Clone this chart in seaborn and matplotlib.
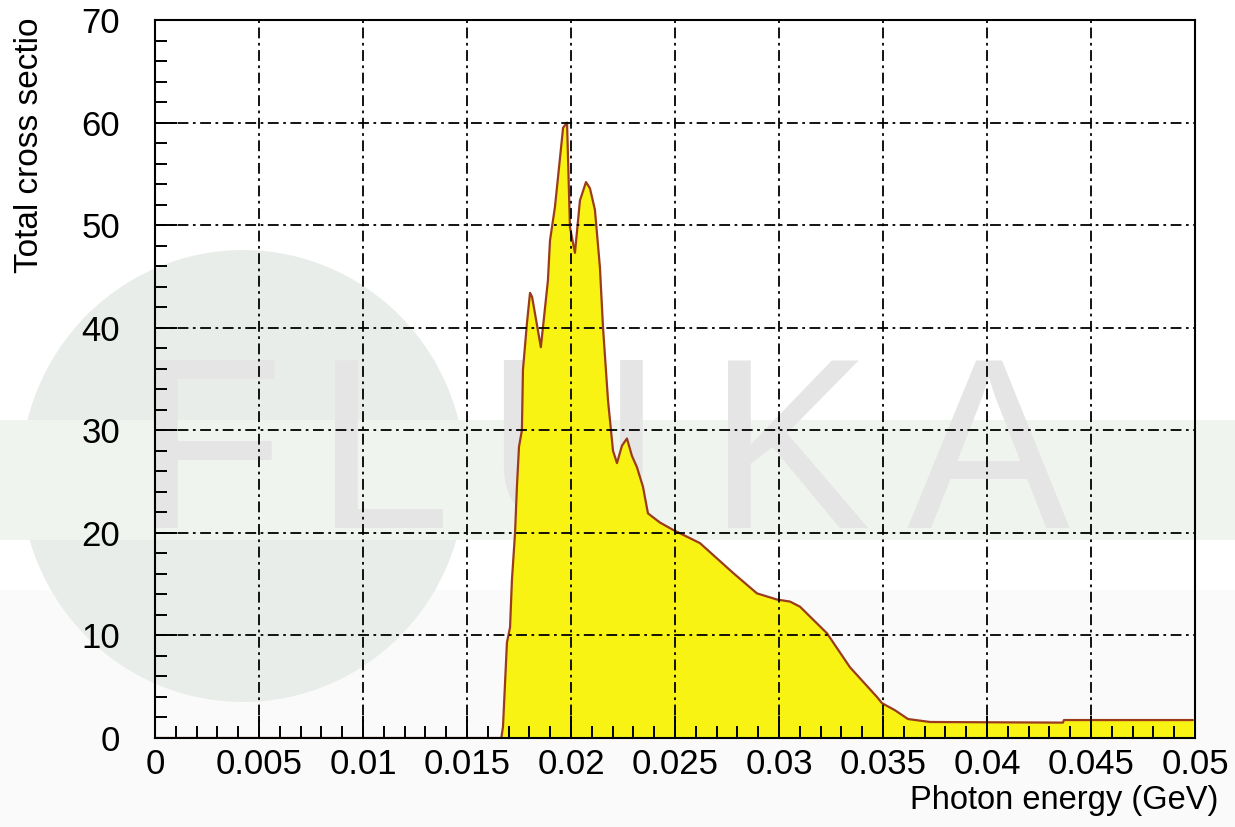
import numpy as np
import pandas as pd
import seaborn as sns
import matplotlib.pyplot as plt
from matplotlib.patches import Ellipse, Rectangle
from matplotlib.ticker import MultipleLocator, FuncFormatter

# photon energy (GeV) and total cross section
energy = [0.0, 0.01665, 0.01673, 0.01692, 0.01707, 0.01716, 0.01731, 0.01740,
          0.01750, 0.01764, 0.01769, 0.01788, 0.01803, 0.01813, 0.01855, 0.01889,
          0.01899, 0.01923, 0.01962, 0.01981, 0.01995, 0.02019, 0.02043, 0.02072,
          0.02091, 0.02115, 0.02139, 0.02154, 0.02178, 0.02202, 0.02221, 0.02245,
          0.02269, 0.02293, 0.02317, 0.02346, 0.02370, 0.02428, 0.02490, 0.02620,
          0.02779, 0.02894, 0.02990, 0.03053, 0.03101, 0.03231, 0.03341, 0.03471,
          0.03495, 0.03558, 0.03620, 0.03726, 0.04365, 0.04370, 0.04990]
sigma = [0.0, 0.0, 1.1, 9.3, 10.8, 15.4, 20.0, 24.5,
         28.4, 30.0, 35.9, 40.4, 43.4, 43.0, 38.1, 44.6,
         48.5, 51.8, 59.5, 60.0, 49.8, 47.3, 52.4, 54.2,
         53.6, 51.5, 45.9, 40.0, 32.9, 28.0, 26.8, 28.5,
         29.2, 27.5, 26.4, 24.5, 21.9, 21.0, 20.3, 19.0,
         16.1, 14.1, 13.5, 13.3, 12.8, 10.2, 6.9, 4.0,
         3.4, 2.7, 1.85, 1.56, 1.5, 1.75, 1.75]

x_label = 'Photon energy (GeV)'
y_label = 'Total cross sectio'
watermark = [('F', 210), ('L', 383), ('U', 572), ('K', 790), ('A', 988)]

df = pd.DataFrame({'energy': energy, 'sigma': sigma})

sns.set_style('white')
plt.rcParams['font.family'] = ['Liberation Sans', 'DejaVu Sans']
plt.rcParams['text.color'] = 'black'

W, H = 1235, 827
fig = plt.figure(figsize=(W / 100, H / 100), dpi=100, facecolor='white')

# faded FLUKA logo behind the plot, drawn in pixel coordinates
bg = fig.add_axes([0, 0, 1, 1], zorder=0)
bg.set_xlim(0, W)
bg.set_ylim(H, 0)
bg.axis('off')
bg.add_patch(Rectangle((0, 590), W, H - 590, color='#fafafa', lw=0))
bg.add_patch(Ellipse((243, 476), 445, 452, color='#e9ede9', lw=0))
bg.add_patch(Rectangle((0, 420), W, 120, color='#f0f4ee', lw=0))
for letter, cx in watermark:
    bg.text(cx, 528, letter, fontsize=176, color='#e5e5e5',
            ha='center', va='baseline')

ax = fig.add_axes([155 / W, 1 - 738 / H, 1040 / W, 718 / H], zorder=1)
ax.patch.set_alpha(0)

ax.fill_between(df['energy'], df['sigma'], color='#f9f314', lw=0, zorder=1)
sns.lineplot(data=df, x='energy', y='sigma', ax=ax, color='#9a3b1c',
             lw=1.6, zorder=2)

ax.set_xlim(0, 0.05)
ax.set_ylim(0, 70)
ax.xaxis.set_major_locator(MultipleLocator(0.005))
ax.xaxis.set_minor_locator(MultipleLocator(0.001))
ax.yaxis.set_major_locator(MultipleLocator(10))
ax.yaxis.set_minor_locator(MultipleLocator(2))
ax.xaxis.set_major_formatter(FuncFormatter(lambda v, p: f'{v:g}'))
ax.yaxis.set_major_formatter(FuncFormatter(lambda v, p: f'{v:g}'))

ax.tick_params(which='both', direction='in', bottom=True, left=True,
               top=False, right=False, width=1.4, color='black',
               labelcolor='black')
ax.tick_params(which='major', length=16, labelsize=25)
ax.tick_params(which='minor', length=8.5)
ax.tick_params(axis='x', which='major', pad=7)
ax.tick_params(axis='y', which='major', pad=25)

ax.set_axisbelow(False)
ax.grid(True, which='major', color='black', lw=1.3,
        linestyle=(0, (6, 2.5, 1.5, 2.5)))
for s in ax.spines.values():
    s.set_visible(True)
    s.set_color('black')
    s.set_linewidth(1.5)

ax.set_xlabel('')
ax.set_ylabel('')
fig.text(1218 / W, 1 - 800 / H, x_label, fontsize=23.5, color='black',
         ha='right', va='center')
fig.text(30 / W, 1 - 273 / H, y_label, fontsize=24, rotation=90,
         color='black', ha='center', va='bottom')

fig.savefig('out.png', dpi=100)
